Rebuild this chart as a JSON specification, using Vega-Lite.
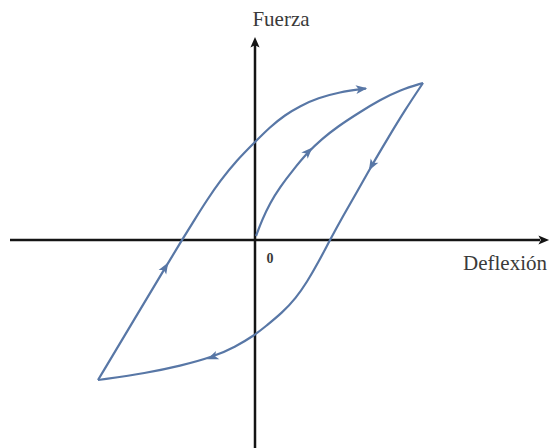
{
  "$schema": "https://vega.github.io/schema/vega-lite/v6.json",
  "width": 551,
  "height": 448,
  "padding": 0,
  "autosize": {"type": "none"},
  "background": "white",
  "config": {"view": {"stroke": null}},
  "datasets": {
    "curvas": [
      {"tramo": "carga", "orden": 1, "x": 1, "y": 4},
      {"tramo": "carga", "orden": 2, "x": 7, "y": 20},
      {"tramo": "carga", "orden": 3, "x": 15, "y": 37},
      {"tramo": "carga", "orden": 4, "x": 25, "y": 53},
      {"tramo": "carga", "orden": 5, "x": 38, "y": 70},
      {"tramo": "carga", "orden": 6, "x": 53, "y": 88},
      {"tramo": "carga", "orden": 7, "x": 67, "y": 101},
      {"tramo": "carga", "orden": 8, "x": 82, "y": 113},
      {"tramo": "carga", "orden": 9, "x": 105, "y": 128},
      {"tramo": "carga", "orden": 10, "x": 125, "y": 140},
      {"tramo": "carga", "orden": 11, "x": 145, "y": 150},
      {"tramo": "carga", "orden": 12, "x": 168, "y": 157},
      {"tramo": "descarga", "orden": 1, "x": 168, "y": 157},
      {"tramo": "descarga", "orden": 2, "x": 150, "y": 130},
      {"tramo": "descarga", "orden": 3, "x": 133, "y": 102},
      {"tramo": "descarga", "orden": 4, "x": 117, "y": 75},
      {"tramo": "descarga", "orden": 5, "x": 102, "y": 48},
      {"tramo": "descarga", "orden": 6, "x": 88, "y": 24},
      {"tramo": "descarga", "orden": 7, "x": 75, "y": 0},
      {"tramo": "descarga", "orden": 8, "x": 63, "y": -23},
      {"tramo": "descarga", "orden": 9, "x": 52, "y": -42},
      {"tramo": "descarga", "orden": 10, "x": 41, "y": -58},
      {"tramo": "descarga", "orden": 11, "x": 27, "y": -73},
      {"tramo": "descarga", "orden": 12, "x": 11, "y": -86},
      {"tramo": "descarga", "orden": 13, "x": 0, "y": -95},
      {"tramo": "descarga", "orden": 14, "x": -20, "y": -107},
      {"tramo": "descarga", "orden": 15, "x": -42, "y": -117},
      {"tramo": "descarga", "orden": 16, "x": -75, "y": -126},
      {"tramo": "descarga", "orden": 17, "x": -108, "y": -133},
      {"tramo": "descarga", "orden": 18, "x": -157, "y": -140},
      {"tramo": "recarga", "orden": 1, "x": -157, "y": -140},
      {"tramo": "recarga", "orden": 2, "x": -124, "y": -85},
      {"tramo": "recarga", "orden": 3, "x": -90, "y": -28},
      {"tramo": "recarga", "orden": 4, "x": -73, "y": 0},
      {"tramo": "recarga", "orden": 5, "x": -60, "y": 21},
      {"tramo": "recarga", "orden": 6, "x": -48, "y": 40},
      {"tramo": "recarga", "orden": 7, "x": -35, "y": 59},
      {"tramo": "recarga", "orden": 8, "x": -18, "y": 80},
      {"tramo": "recarga", "orden": 9, "x": 0, "y": 98},
      {"tramo": "recarga", "orden": 10, "x": 15, "y": 113},
      {"tramo": "recarga", "orden": 11, "x": 30, "y": 125},
      {"tramo": "recarga", "orden": 12, "x": 45, "y": 134},
      {"tramo": "recarga", "orden": 13, "x": 63, "y": 142},
      {"tramo": "recarga", "orden": 14, "x": 85, "y": 148},
      {"tramo": "recarga", "orden": 15, "x": 107, "y": 151},
      {"tramo": "recarga", "orden": 16, "x": 111, "y": 151.5}
    ],
    "flechas": [
      {"x": 53, "y": 88, "angulo": 44},
      {"x": 117, "y": 75, "angulo": 210},
      {"x": -42, "y": -117, "angulo": 248},
      {"x": -90, "y": -28, "angulo": 31},
      {"x": 106, "y": 151, "angulo": 83}
    ],
    "ejes": [
      {"eje": "deflexion", "orden": 1, "x": -245, "y": 0},
      {"eje": "deflexion", "orden": 2, "x": 285, "y": 0},
      {"eje": "fuerza", "orden": 1, "x": 0, "y": -208},
      {"eje": "fuerza", "orden": 2, "x": 0, "y": 195}
    ],
    "puntas": [
      {"x": 288, "y": 0, "angulo": 90},
      {"x": 0, "y": 197, "angulo": 0}
    ],
    "rotulos": [
      {"texto": "Fuerza", "x": 26, "y": 214},
      {"texto": "Deflexión", "x": 250, "y": -30}
    ]
  },
  "layer": [
    {
      "data": {"name": "ejes"},
      "mark": {"type": "line", "color": "#141414", "strokeWidth": 2.5},
      "encoding": {
        "x": {"field": "x", "type": "quantitative", "scale": {"domain": [-255, 296], "nice": false, "zero": false}, "axis": null},
        "y": {"field": "y", "type": "quantitative", "scale": {"domain": [-208, 240], "nice": false, "zero": false}, "axis": null},
        "detail": {"field": "eje"},
        "order": {"field": "orden"}
      }
    },
    {
      "data": {"name": "puntas"},
      "mark": {"type": "point", "shape": "M0,-1L0.75,0.75L0,0.35L-0.75,0.75Z", "filled": true, "color": "#141414", "size": 150, "opacity": 1},
      "encoding": {
        "x": {"field": "x", "type": "quantitative"},
        "y": {"field": "y", "type": "quantitative"},
        "angle": {"field": "angulo", "type": "quantitative", "scale": null}
      }
    },
    {
      "data": {"name": "curvas"},
      "mark": {"type": "line", "color": "#5877a6", "strokeWidth": 2.2, "interpolate": "basis"},
      "encoding": {
        "x": {"field": "x", "type": "quantitative"},
        "y": {"field": "y", "type": "quantitative"},
        "detail": {"field": "tramo"},
        "order": {"field": "orden"}
      }
    },
    {
      "data": {"name": "flechas"},
      "mark": {"type": "point", "shape": "M0,-1L0.7,0.8L0,0.35L-0.7,0.8Z", "filled": true, "color": "#5877a6", "size": 160, "opacity": 1},
      "encoding": {
        "x": {"field": "x", "type": "quantitative"},
        "y": {"field": "y", "type": "quantitative"},
        "angle": {"field": "angulo", "type": "quantitative", "scale": null}
      }
    },
    {
      "data": {"name": "rotulos"},
      "mark": {"type": "text", "font": "Liberation Serif", "fontSize": 21, "color": "#3a3a3a", "align": "center", "baseline": "alphabetic"},
      "encoding": {
        "x": {"field": "x", "type": "quantitative"},
        "y": {"field": "y", "type": "quantitative"},
        "text": {"field": "texto"}
      }
    },
    {
      "data": {"values": [{"texto": "0", "x": 15, "y": -23}]},
      "mark": {"type": "text", "font": "Liberation Serif", "fontSize": 14, "fontWeight": "bold", "color": "#3a3a3a", "align": "center", "baseline": "alphabetic"},
      "encoding": {
        "x": {"field": "x", "type": "quantitative"},
        "y": {"field": "y", "type": "quantitative"},
        "text": {"field": "texto"}
      }
    }
  ]
}
